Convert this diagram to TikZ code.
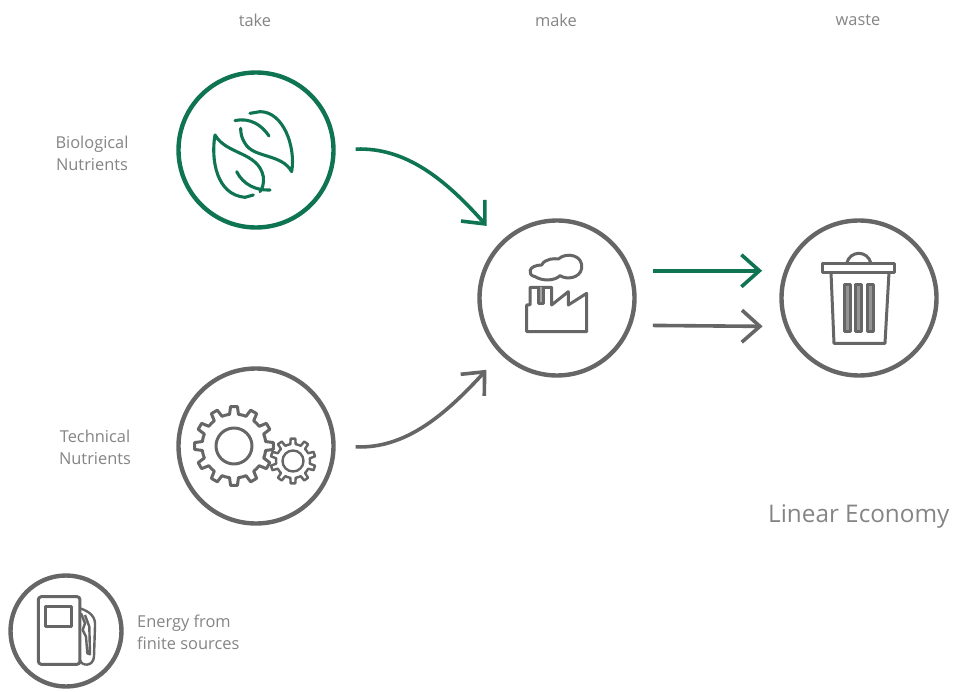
\documentclass[tikz,border=0pt]{standalone}
\usepackage{fontspec}
\setmainfont{Open Sans}
\usetikzlibrary{arrows.meta,calc}
\definecolor{leaf}{HTML}{0F7452}
\definecolor{ink}{HTML}{666666}
\definecolor{txt}{HTML}{858585}
\tikzset{
  x=1pt,y=-1pt,
  ring/.style={circle,draw=#1,line width=4.4pt,minimum size=155pt,inner sep=0pt},
  smallring/.style={circle,draw=ink,line width=4.4pt,minimum size=111pt,inner sep=0pt},
  flow/.style={line width=3.6pt,-{Straight Barb[length=18pt,width=32pt]}},
  lab/.style={text=txt,font=\fontsize{16.4pt}{22pt}\selectfont,inner sep=0pt},
  icon/.style={draw=ink,line width=3pt,line join=round},
  zoomed/.style={shift={#1},x=0.3333pt,y=-0.3333pt}
}
\begin{document}
\begin{tikzpicture}
\useasboundingbox (0,0) rectangle (961,692);
\fill[white] (0,0) rectangle (961,692);
% rings
\node[ring=leaf] (bio) at (256,150) {};
\node[ring=ink] (tech) at (256,446) {};
\node[ring=ink] (factory) at (557,298) {};
\node[ring=ink] (bin) at (859,298) {};
\node[smallring] (pump) at (66,631) {};
% connectors
\draw[flow,draw=leaf,shorten <=20pt,shorten >=21pt] (bio.east) .. controls +(70,-3) and +(-55,-62) .. (factory.135);
\draw[flow,draw=ink,shorten <=20pt,shorten >=21pt] (tech.east) .. controls +(70,3) and +(-55,60) .. (factory.-135);
\draw[flow,draw=leaf,shorten <=21pt,shorten >=22pt] (factory.20) -- (bin.160);
\draw[flow,draw=ink,shorten <=21pt,shorten >=22pt] (factory.-20.5) -- (bin.-159.5);
% leaves
\begin{scope}[zoomed={(170,60)}]
\draw[draw=leaf,line width=3.1pt,line cap=round]
 (135,225) .. controls (122,300) and (140,405) .. (225,412) -- (250,405)
 (135,225) .. controls (170,285) and (265,275) .. (280,350) .. controls (282,370) and (278,385) .. (270,395)
 (200,335) .. controls (220,375) and (260,392) .. (300,390)
 (365,335) .. controls (378,260) and (340,155) .. (270,155) -- (240,160)
 (365,335) .. controls (335,280) and (250,295) .. (225,250) .. controls (215,235) and (212,220) .. (212,205)
 (195,182) .. controls (240,172) and (275,195) .. (297,228);
\end{scope}
% gears
\draw[icon] ($(234,446)+(-15:32)$)
 \foreach \a in {0,30,...,330}{
   -- ($(234,446)+(\a-8:32)$) -- ($(234,446)+(\a-5:39.5)$) -- ($(234,446)+(\a+5:39.5)$) -- ($(234,446)+(\a+8:32)$) -- ($(234,446)+(\a+15:32)$)
 } -- cycle;
\draw[icon] (234,446) circle[radius=18];
\draw[icon,line width=2.4pt] ($(293,461)+(0:17)$)
 \foreach \a in {18,54,...,342}{
   -- ($(293,461)+(\a-9:17)$) -- ($(293,461)+(\a-6:22.5)$) -- ($(293,461)+(\a+6:22.5)$) -- ($(293,461)+(\a+9:17)$) -- ($(293,461)+(\a+18:17)$)
 } -- cycle;
\draw[icon,line width=2.4pt] (293,461) circle[radius=10.5];
% factory
\begin{scope}[zoomed={(470,210)}]
\draw[icon]
 (170,365) -- (170,285) -- (180,285) -- (180,232) -- (245,232) -- (245,285) -- (295,245) -- (295,285) -- (350,250) -- (350,365) -- cycle;
\draw[icon,fill=ink!60] (206,232) -- (206,282) -- (222,282) -- (222,232);
\draw[icon]
 (195,200) .. controls (170,195) and (175,165) .. (215,165)
 .. controls (225,145) and (255,145) .. (265,147)
 .. controls (290,125) and (340,135) .. (335,175)
 .. controls (330,205) and (290,210) .. (270,197)
 .. controls (255,212) and (220,215) .. (195,200) -- cycle;
\end{scope}
% bin
\begin{scope}[zoomed={(770,210)}]
\draw[icon] (158,160) rectangle (375,187);
\draw[icon] (230,160) .. controls (240,120) and (293,120) .. (303,160);
\draw[icon] (183,187) -- (192,400) -- (345,400) -- (357,187);
\foreach \bx in {222,257,293}
  \draw[icon,fill=ink!70] (\bx,225) rectangle (\bx+18,365);
\end{scope}
% pump
\begin{scope}[zoomed={(0,565)}]
\draw[icon,rounded corners=3pt] (115,95) rectangle (240,298);
\draw[icon] (137,125) rectangle (215,185);
\draw[icon,line width=2.4pt] (240,130) .. controls (270,140) and (288,155) .. (285,185) -- (282,275) .. controls (280,305) and (245,305) .. (240,285);
\draw[icon,line width=2.4pt] (243,145) -- (255,175) -- (248,195) -- (258,215) -- (262,265) -- (270,268) -- (268,185) -- (255,150);
\end{scope}
% labels
\node[lab] (ltake) at (255,20) {take};
\node[lab] (lmake) at (556,20) {make};
\node[lab] (lwaste) at (858,20) {waste};
\node[lab,align=center] (lbio) at (92,153.5) {Biological\\Nutrients};
\node[lab,align=center] (ltech) at (95,447) {Technical\\Nutrients};
\node[lab,align=left,anchor=west] (lenergy) at (137,632.5) {Energy from\\finite sources};
\node[lab,anchor=west,font=\fontsize{24.3pt}{26pt}\selectfont] (ltitle) at (768,517) {Linear Economy};
\end{tikzpicture}
\end{document}
